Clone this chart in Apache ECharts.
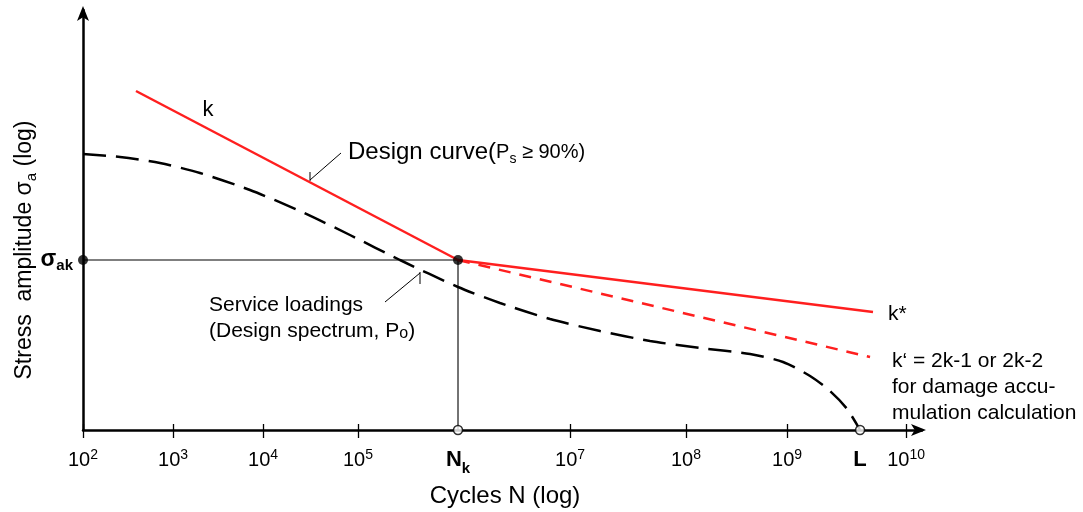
<!DOCTYPE html>
<html>
<head>
<meta charset="utf-8">
<script src="https://cdn.jsdelivr.net/npm/echarts@6/dist/echarts.min.js"></script>
<style>
  html, body { margin: 0; padding: 0; background: #fff; }
  #chart { width: 1083px; height: 512px; }
</style>
</head>
<body>
<div id="chart"></div>
<script>
// x axis: drawn decade positions (schematic log scale), y axis: schematic log stress units
const xTickPos    = [2, 2.875, 3.75, 4.673, 5.645, 6.734, 7.861, 8.843, 9.553, 10];
const xTickLabels = ['10^2', '10^3', '10^4', '10^5', 'N_k', '10^7', '10^8', '10^9', 'L', '10^10'];
const xTickMarks  = [2, 2.875, 3.75, 4.673, 6.734, 7.861, 8.843, 10];

const NkX = 5.645;      // knee point cycles position
const LX = 9.553;       // service life position
const sigmaAk = 170;    // knee stress level

const designCurveK     = [[2.515, 339], [NkX, sigmaAk]];
const designCurveKstar = [[NkX, sigmaAk], [9.679, 118]];
const designCurveKdash = [[NkX, sigmaAk], [9.650, 73]];
const serviceLoadings  = [
  [2.000, 276], [2.360, 273], [2.748, 267], [3.137, 257], [3.623, 240],
  [4.109, 219], [4.595, 195], [5.081, 170], [5.645, 143], [6.053, 127],
  [6.540, 111], [7.026, 99], [7.512, 89], [7.998, 82], [8.484, 76],
  [8.804, 68], [9.067, 54], [9.261, 39], [9.427, 21], [LX, 0]
];
const guideLines = [[2, sigmaAk], [NkX, sigmaAk], [NkX, 0]];
const filledDots = [[2, sigmaAk], [NkX, sigmaAk]];
const openDots   = [[NkX, 0], [LX, 0]];

const RED = '#ff1f1f';
const FONT = '"Liberation Sans", Arial, Helvetica, sans-serif';

function labelFor(v) {
  let idx = -1;
  for (let i = 0; i < xTickPos.length; i++) if (Math.abs(xTickPos[i] - v) < 1e-6) idx = i;
  if (idx < 0) return '';
  const t = xTickLabels[idx];
  if (t === 'N_k') return '{b|N}{bs|k}';
  if (t === 'L') return '{b|L}';
  const p = t.split('^');
  return '{n|' + p[0] + '}{sup|' + p[1] + '}';
}

const chart = echarts.init(document.getElementById('chart'), null, { renderer: 'canvas' });
const option = {
  animation: false,
  backgroundColor: '#fff',
  textStyle: { fontFamily: FONT },
  grid: { left: 83, right: 161, top: 10, bottom: 82, containLabel: false },
  xAxis: [{
    type: 'value', min: 2, max: 10.155,
    axisLine: { show: true, symbol: ['none', 'arrow'], symbolSize: [9, 15], symbolOffset: [0, 4],
      lineStyle: { color: '#000', width: 2.5 } },
    axisTick: { show: true, customValues: xTickMarks, length: 8, inside: false,
      lineStyle: { color: '#000', width: 1.3 } },
    axisLabel: { show: true, customValues: xTickPos, margin: 18, formatter: labelFor,
      color: '#000', fontFamily: FONT,
      rich: {
        n: { fontSize: 20, fontFamily: FONT, color: '#000', lineHeight: 24, verticalAlign: 'middle' },
        sup: { fontSize: 14, fontFamily: FONT, color: '#000', lineHeight: 24, verticalAlign: 'top' },
        b: { fontSize: 22, fontWeight: 'bold', fontFamily: FONT, color: '#000', lineHeight: 24, verticalAlign: 'middle' },
        bs: { fontSize: 15, fontWeight: 'bold', fontFamily: FONT, color: '#000', lineHeight: 24, verticalAlign: 'bottom', padding: [0, 0, -4, 0] }
      } },
    splitLine: { show: false }
  }, {
    type: 'value', min: 2, max: 10.155, position: 'bottom',
    axisLine: { show: false },
    axisTick: { show: true, customValues: xTickMarks, length: 6, inside: true,
      lineStyle: { color: '#000', width: 1.3 } },
    axisLabel: { show: false },
    splitLine: { show: false }
  }],
  yAxis: {
    type: 'value', min: 0, max: 420,
    axisLine: { show: true, symbol: ['none', 'arrow'], symbolSize: [9, 15], symbolOffset: [0, 4],
      lineStyle: { color: '#000', width: 2.5 } },
    axisTick: { show: false }, axisLabel: { show: false }, splitLine: { show: false }
  },
  series: [
    { type: 'line', data: guideLines, showSymbol: false, symbol: 'none',
      lineStyle: { color: '#000', width: 1.1 }, z: 2 },
    { type: 'line', data: designCurveK, showSymbol: false, symbol: 'none',
      lineStyle: { color: RED, width: 2.5 }, z: 3 },
    { type: 'line', data: designCurveKstar, showSymbol: false, symbol: 'none',
      lineStyle: { color: RED, width: 2.5 }, z: 3 },
    { type: 'line', data: designCurveKdash, showSymbol: false, symbol: 'none',
      lineStyle: { color: RED, width: 2.5, type: [12, 9] }, z: 3 },
    { type: 'line', data: serviceLoadings, showSymbol: false, symbol: 'none', smooth: 0.25,
      lineStyle: { color: '#000', width: 2.5, type: [23, 10] }, z: 3 },
    { type: 'scatter', data: filledDots, symbol: 'circle', symbolSize: 10,
      itemStyle: { color: '#000' }, z: 5 },
    { type: 'scatter', data: openDots, symbol: 'circle', symbolSize: 9,
      itemStyle: { color: '#fff', borderColor: '#000', borderWidth: 1.5 }, z: 5 }
  ],
  graphic: [
    { type: 'text', x: 25, y: 250, rotation: Math.PI / 2,
      style: { text: '{m|Stress  amplitude σ}{s|a}{m| (log)}', align: 'center', verticalAlign: 'middle',
        rich: { m: { fontSize: 23, fontFamily: FONT, fill: '#000', lineHeight: 28 },
                s: { fontSize: 15, fontFamily: FONT, fill: '#000', lineHeight: 28, verticalAlign: 'bottom' } } } },
    { type: 'text', x: 505, y: 496,
      style: { text: 'Cycles N (log)', fontSize: 24, fontFamily: FONT, fill: '#000', align: 'center', verticalAlign: 'middle' } },
    { type: 'text', x: 73, y: 260,
      style: { text: '{b|σ}{s|ak}', align: 'right', verticalAlign: 'middle',
        rich: { b: { fontSize: 23, fontWeight: 'bold', fontFamily: FONT, fill: '#000', lineHeight: 26 },
                s: { fontSize: 15, fontWeight: 'bold', fontFamily: FONT, fill: '#000', lineHeight: 26, verticalAlign: 'bottom' } } } },
    { type: 'text', x: 208, y: 110,
      style: { text: 'k', fontSize: 22, fontFamily: FONT, fill: '#000', align: 'center', verticalAlign: 'middle' } },
    { type: 'text', x: 348, y: 152,
      style: { text: '{m|Design curve(}{p|P}{s|s}{p| ≥ 90%)}', align: 'left', verticalAlign: 'middle',
        rich: { m: { fontSize: 24, fontFamily: FONT, fill: '#000', lineHeight: 28 },
                p: { fontSize: 20, fontFamily: FONT, fill: '#000', lineHeight: 28 },
                s: { fontSize: 14, fontFamily: FONT, fill: '#000', lineHeight: 28, verticalAlign: 'bottom' } } } },
    { type: 'line', shape: { x1: 310, y1: 180, x2: 341, y2: 153 }, style: { stroke: '#000', lineWidth: 1 } },
    { type: 'line', shape: { x1: 310, y1: 172, x2: 310, y2: 181 }, style: { stroke: '#000', lineWidth: 1 } },
    { type: 'text', x: 209, y: 305,
      style: { text: 'Service loadings', fontSize: 21, fontFamily: FONT, fill: '#000', align: 'left', verticalAlign: 'middle' } },
    { type: 'text', x: 209, y: 331,
      style: { text: '{m|(Design spectrum, P}{s|o}{m|)}', align: 'left', verticalAlign: 'middle',
        rich: { m: { fontSize: 21, fontFamily: FONT, fill: '#000', lineHeight: 26 },
                s: { fontSize: 16, fontFamily: FONT, fill: '#000', lineHeight: 26, verticalAlign: 'bottom', padding: [0, 0, 2, 0] } } } },
    { type: 'line', shape: { x1: 385, y1: 302, x2: 420, y2: 273 }, style: { stroke: '#000', lineWidth: 1 } },
    { type: 'line', shape: { x1: 420, y1: 272, x2: 420, y2: 284 }, style: { stroke: '#000', lineWidth: 1 } },
    { type: 'text', x: 888, y: 314,
      style: { text: 'k*', fontSize: 21, fontFamily: FONT, fill: '#000', align: 'left', verticalAlign: 'middle' } },
    { type: 'text', x: 892, y: 361,
      style: { text: 'k‘ = 2k-1 or 2k-2', fontSize: 21, fontFamily: FONT, fill: '#000', align: 'left', verticalAlign: 'middle' } },
    { type: 'text', x: 892, y: 387,
      style: { text: 'for damage accu-', fontSize: 21, fontFamily: FONT, fill: '#000', align: 'left', verticalAlign: 'middle' } },
    { type: 'text', x: 892, y: 413,
      style: { text: 'mulation calculation', fontSize: 21, fontFamily: FONT, fill: '#000', align: 'left', verticalAlign: 'middle' } }
  ]
};
chart.setOption(option);
</script>
</body>
</html>
